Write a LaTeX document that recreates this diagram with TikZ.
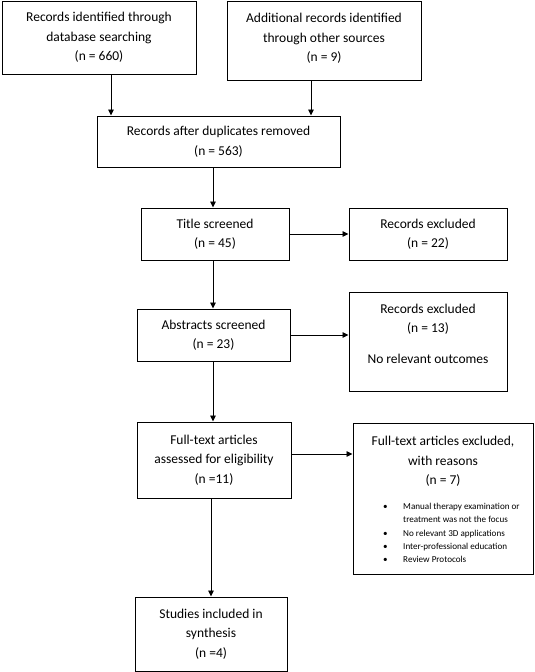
\documentclass[tikz,border=0pt]{standalone}
\usepackage{fontspec}
\setmainfont{Carlito}
\usetikzlibrary{arrows.meta}
\begin{document}
\begin{tikzpicture}[x=1pt,y=-1pt,
  box/.style={draw=black,line width=1pt,inner sep=0pt,align=center,
    font=\fontsize{13.5}{19.5}\selectfont},
  arr/.style={line width=0.9pt,-{Triangle[length=6pt,width=5.5pt]}}]
\useasboundingbox (0,0) rectangle (535,672);
\node[box,minimum width=194pt,minimum height=73pt] (b1) at (99,37.5)
  {Records identified through\\database searching\\(n = 660)};
\node[box,minimum width=194pt,minimum height=79pt] (b2) at (324,40.5)
  {Additional records identified\\through other sources\\(n = 9)\\[-14pt]\mbox{}};
\node[box,minimum width=243pt,minimum height=51pt] (b3) at (218.5,141.5)
  {Records after duplicates removed\\(n = 563)};
\node[box,minimum width=148pt,minimum height=52pt] (title) at (215,234)
  {Title screened\\(n = 45)};
\node[box,minimum width=158pt,minimum height=52pt] (ex1) at (428,234)
  {Records excluded\\(n = 22)};
\node[box,minimum width=153pt,minimum height=52pt] (abs) at (213.5,335)
  {Abstracts screened\\(n = 23)};
\node[box,minimum width=158pt,minimum height=99pt] (ex2) at (428,341.5)
  {Records excluded\\(n = 13)\\[11pt]No relevant outcomes\\[-4pt]\mbox{}};
\node[box,minimum width=154pt,minimum height=76pt] (ft) at (214,460)
  {Full-text articles\\assessed for eligibility\\(n =11)};
\node[box,minimum width=180pt,minimum height=151pt] (ex3) at (443,498.5) {};
\node[align=center,inner sep=0pt,anchor=north,font=\fontsize{13.5}{19.5}\selectfont] (ex3t) at (443,436)
  {Full-text articles excluded,\\with reasons\\(n = 7)};
\node[inner sep=0pt,anchor=north west,font=\fontsize{9.1}{13.3}\selectfont] (reasons) at (383,500)
  {\begin{tabular}{@{}l@{\hspace{15.5pt}}l@{}}
  \textbullet & Manual therapy examination or\\
   & treatment was not the focus\\
  \textbullet & No relevant 3D applications\\
  \textbullet & Inter-professional education\\
  \textbullet & Review Protocols
  \end{tabular}};
\node[box,minimum width=152pt,minimum height=74pt] (st) at (211,634)
  {Studies included in\\synthesis\\(n =4)};
\coordinate (c1) at (111,0);
\coordinate (c2) at (311,0);
\coordinate (col) at (213,0);
\coordinate (col2) at (211,0);
\coordinate (r3) at (0,454);
\draw[arr] (b1.south -| c1) -- (b3.north -| c1);
\draw[arr] (b2.south -| c2) -- (b3.north -| c2);
\draw[arr] (b3.south -| col) -- (title.north -| col);
\draw[arr] (title.east) -- (ex1.west);
\draw[arr] (title.south -| col) -- (abs.north -| col);
\draw[arr] (abs.east) -- (abs.east -| ex2.west);
\draw[arr] (abs.south -| col) -- (ft.north -| col);
\draw[arr] (ft.east |- r3) -- (ex3.west |- r3);
\draw[arr] (ft.south -| col2) -- (st.north -| col2);
\end{tikzpicture}
\end{document}
